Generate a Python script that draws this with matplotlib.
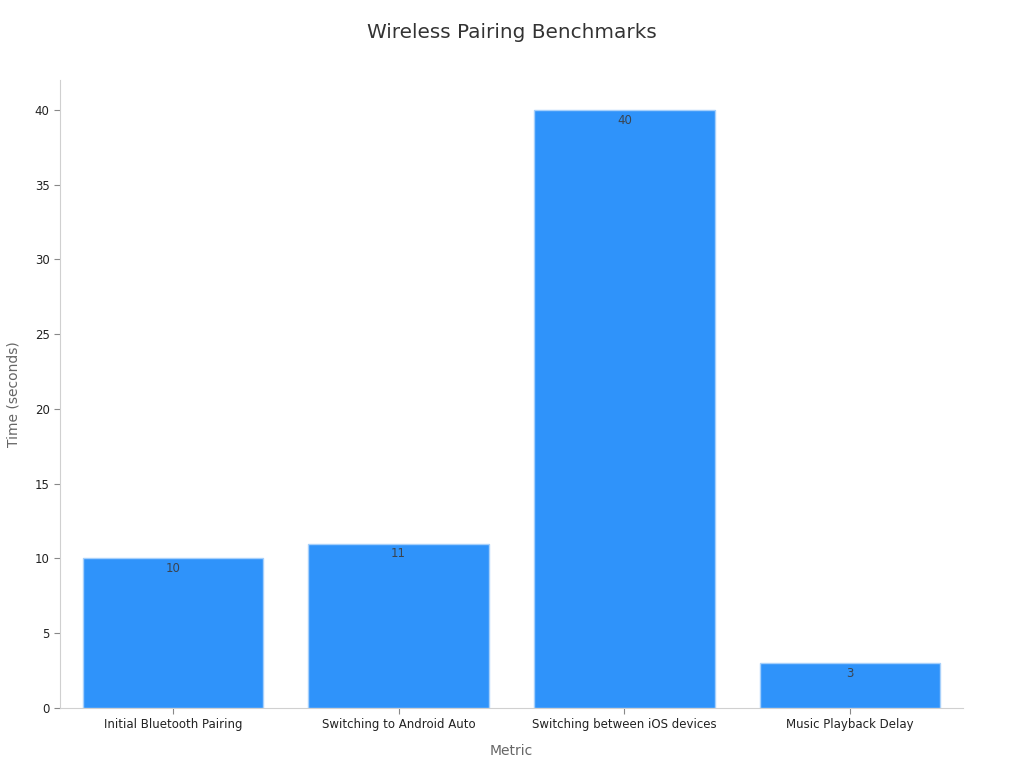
import matplotlib
matplotlib.use("Agg")
import matplotlib.pyplot as plt

metrics = ["Initial Bluetooth Pairing", "Switching to Android Auto",
           "Switching between iOS devices", "Music Playback Delay"]
times = [10, 11, 40, 3]

fig = plt.figure(figsize=(10.24, 7.68), dpi=100)
ax = fig.add_axes([0.0586, 0.0781, 0.8818, 0.8177])

bars = ax.bar(range(len(metrics)), times, width=0.8, color="#2f93fa",
              edgecolor="#a6d0fb", linewidth=1)

# value labels just inside the top of each bar
for b, v in zip(bars, times):
    ax.text(b.get_x() + b.get_width() / 2, v - 0.25, str(v),
            ha="center", va="top", fontsize=8.5, color="#3a4450")

ax.set_xlim(-0.5, 3.5)
ax.set_ylim(0, 42)
ax.set_yticks(range(0, 41, 5))
ax.set_xticks(range(len(metrics)))
ax.set_xticklabels(metrics, fontsize=8.5, color="#222222")
ax.tick_params(axis="y", labelsize=8.5, labelcolor="#222222", color="#888888", length=4)
ax.tick_params(axis="x", color="#888888", length=4)

for s in ["top", "right"]:
    ax.spines[s].set_visible(False)
for s in ["left", "bottom"]:
    ax.spines[s].set_color("#d0d0d0")

ax.set_xlabel("Metric", fontsize=10, color="#666666", labelpad=9)
ax.set_ylabel("Time (seconds)", fontsize=10, color="#666666", labelpad=10)
fig.suptitle("Wireless Pairing Benchmarks", fontsize=14.4, color="#333333", y=0.97)

fig.savefig("out.png", dpi=100)
